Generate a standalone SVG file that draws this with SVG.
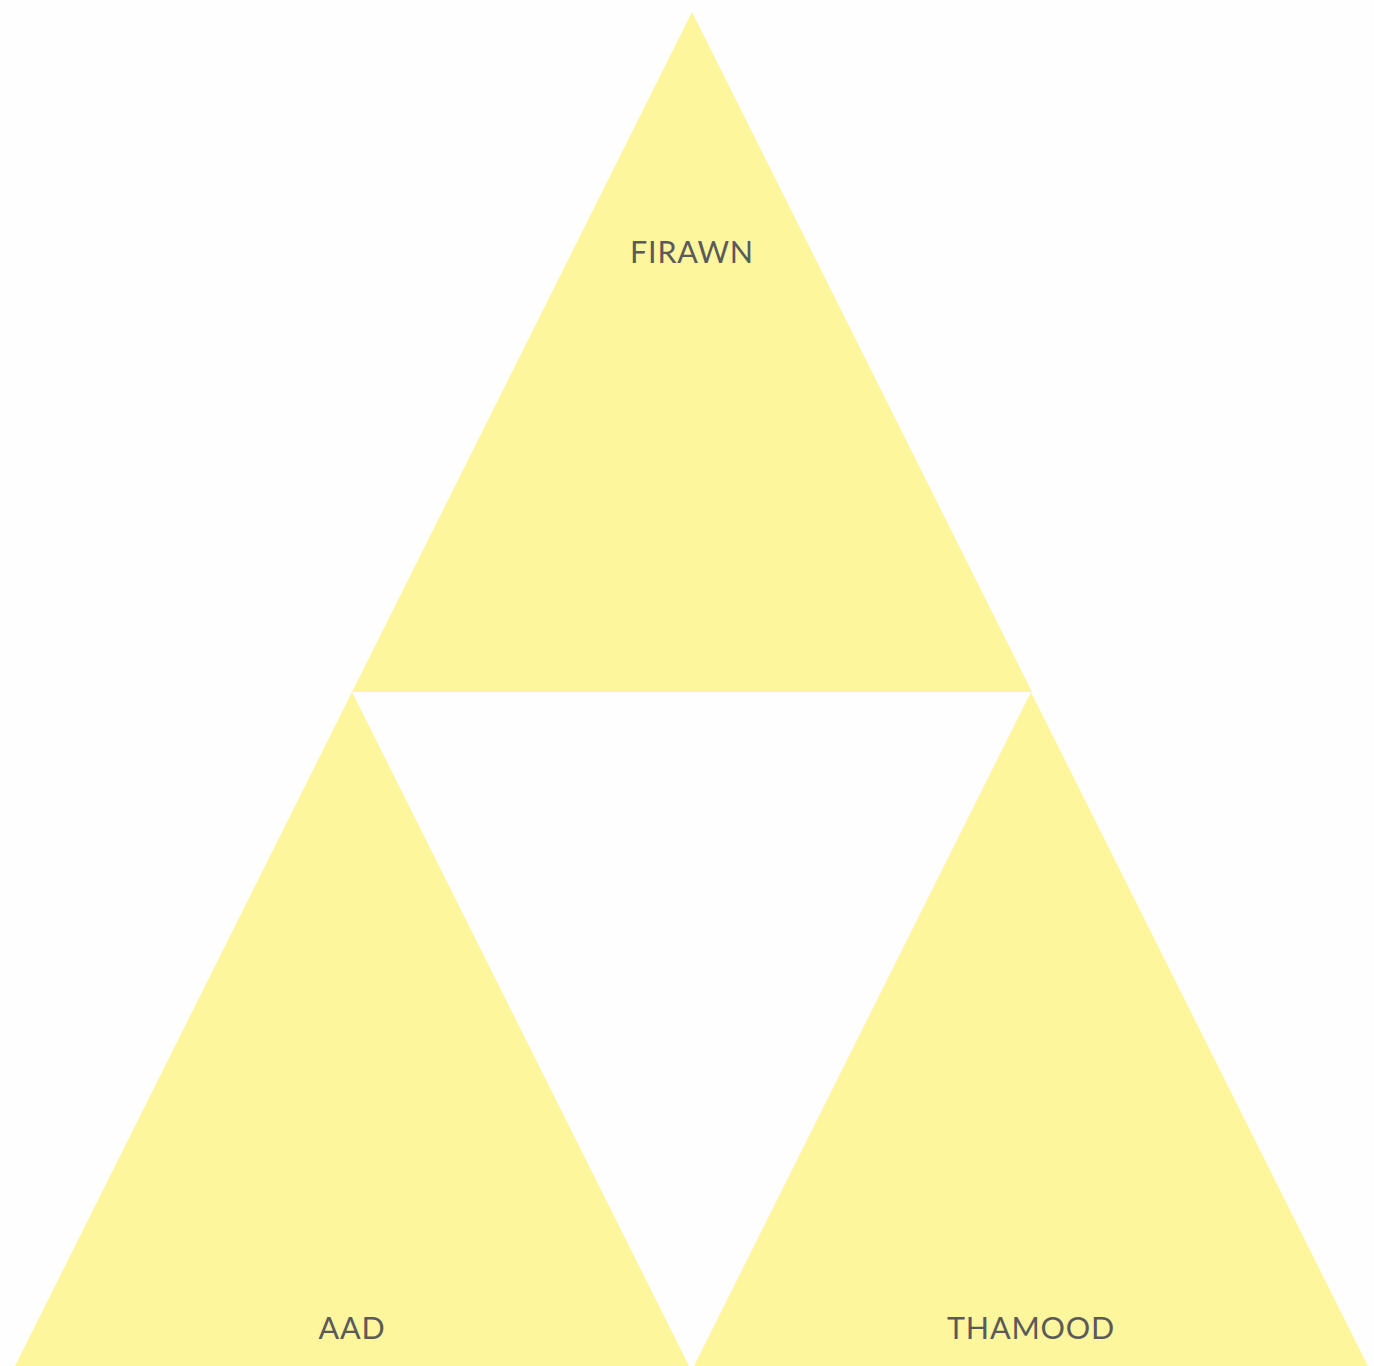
<svg xmlns="http://www.w3.org/2000/svg" width="1374" height="1366" viewBox="0 0 1374 1366">
<style>
.tri{fill:#FEF69D;}
.lbl{font-family:Lato,"Noto Sans",sans-serif;font-size:30.5px;letter-spacing:0.8px;fill:#5a5a5a;text-anchor:middle;}
</style>
<rect width="1374" height="1366" fill="#FEFEFE"/>
<g id="firawn">
<polygon class="tri" points="692,12 1032,692 352,692"/>
<text class="lbl" x="692" y="263">FIRAWN</text>
</g>
<g id="aad">
<polygon class="tri" points="352,692 692,1372 12,1372"/>
<text class="lbl" x="352" y="1339">AAD</text>
</g>
<g id="thamood">
<polygon class="tri" points="1031,692 1371,1372 691,1372"/>
<text class="lbl" x="1031" y="1339">THAMOOD</text>
</g>
<g id="connectors"/>
</svg>
